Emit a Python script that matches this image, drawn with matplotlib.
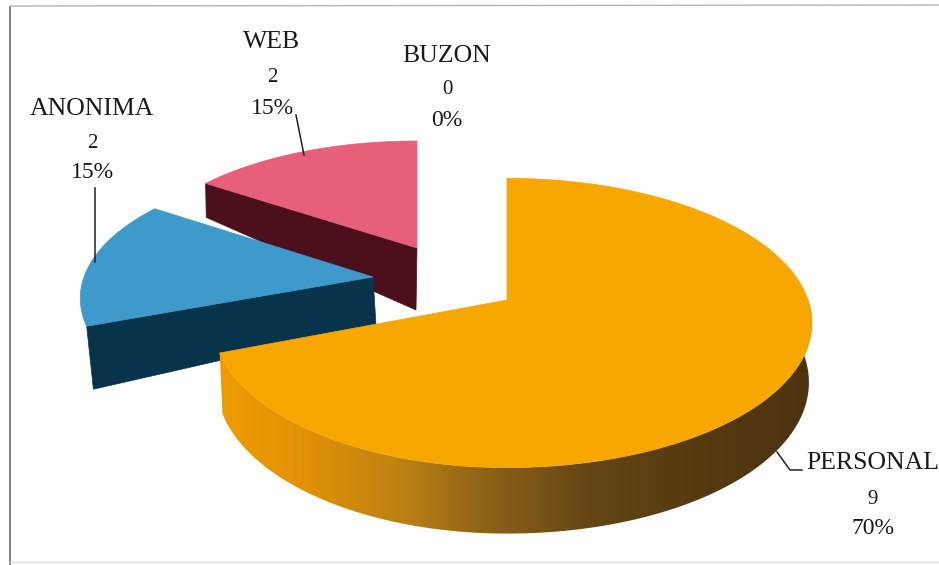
import matplotlib
matplotlib.use("Agg")
import matplotlib.pyplot as plt
from matplotlib.colors import LinearSegmentedColormap
from matplotlib.patches import Polygon
import numpy as np

categories = ["PERSONAL", "ANONIMA", "WEB", "BUZON"]
counts = [9, 2, 2, 0]
percent_labels = ["70%", "15%", "15%", "0%"]

# slice geometry: apex pixel, horizontal radius left/right, vertical radius,
# wall depth at apex and rim, extra depth toward the viewer, wall x shift
geometry = {
    "PERSONAL": dict(apex=(507, 300), fl=290, fr=301, g=141, da=58, dr=58, dv=8, sx=0, cx=-3),
    "ANONIMA": dict(apex=(373, 277), fl=289, fr=289, g=131, da=48, dr=63, dv=0, sx=3, cx=-4),
    "WEB": dict(apex=(417, 248), fl=280, fr=280, g=124, da=62, dr=34, dv=0, sx=-1, cx=-2),
}
top_colors = {"PERSONAL": "#f8a700", "ANONIMA": "#3d9aca", "WEB": "#e85f7c"}
wall_colors = {"ANONIMA": "#07344b", "WEB": "#4c101d"}
persp = 0.1587

side_cmap = LinearSegmentedColormap.from_list("side", [
    (0.0, "#ee9c02"), (0.14, "#e29205"), (0.31, "#bd8112"),
    (0.45, "#8c6318"), (0.62, "#654614"), (0.8, "#563b11"), (1.0, "#4b3310"),
])


def project(s, r, theta, depth=False):
    u = r * np.sin(theta)
    v = -r * np.cos(theta)
    den = 1 - persp * v
    f = np.where(u < 0, s["fl"], s["fr"])
    x = s["apex"][0] + f * u / den
    y = s["apex"][1] + s["g"] * v / den
    if depth:
        x = x + s["sx"] + s["cx"] * u
        y = y + s["da"] + (s["dr"] - s["da"]) * r + s["dv"] * v
    return x, y


fig = plt.figure(figsize=(9.39, 5.65), dpi=100)
ax = fig.add_axes([0, 0, 1, 1])
ax.axis("off")

# panel border
ax.plot([10, 10], [7, 565], color="#6e6e6e", lw=1.2)
ax.plot([10, 939], [6, 5], color="#b4b4b4", lw=1.0)
ax.plot([10, 939], [562, 562], color="#dcdcdc", lw=1.0)

# slice angles, clockwise from twelve o'clock
total = sum(counts)
edges = np.cumsum([0] + counts) / total * 2 * np.pi
spans = {c: (edges[i], edges[i + 1]) for i, c in enumerate(categories)}

# back to front so nearer slices cover the others
for name in ["WEB", "ANONIMA", "PERSONAL"]:
    s = geometry[name]
    t0, t1 = spans[name]
    t = np.linspace(t0, t1, 300)
    xa, ya = project(s, 0.0, 0.0)
    xr, yr = project(s, 1.0, t)

    if name == "PERSONAL":
        # rim wall with a left to right shade, clipped to the wall outline
        tw = np.linspace(np.radians(60), t1, 400)
        xt, yt = project(s, 1.0, tw)
        xb, yb = project(s, 1.0, tw, depth=True)
        outline = np.c_[np.r_[xt, xb[::-1]], np.r_[yt, yb[::-1]]]
        wall = Polygon(outline, closed=True, facecolor="none", edgecolor="none",
                       transform=ax.transData)
        ax.add_patch(wall)
        shade = np.linspace(0, 1, 512).reshape(1, -1)
        img = ax.imshow(shade, cmap=side_cmap, extent=(218, 812, 560, 300),
                        aspect="auto", zorder=3, interpolation="bilinear")
        img.set_clip_path(wall)
    else:
        # straight cut face from the apex out to the start of the arc
        xa2, ya2 = project(s, 0.0, 0.0, depth=True)
        xt, yt = project(s, 1.0, t0)
        xb, yb = project(s, 1.0, t0, depth=True)
        ax.fill([xa, xt, xb, xa2], [ya, yt, yb, ya2], color=wall_colors[name],
                lw=0.5, zorder=1 if name == "WEB" else 2)

    ax.fill(np.r_[xa, xr], np.r_[ya, yr], color=top_colors[name], lw=0.5,
            zorder={"WEB": 1.5, "ANONIMA": 2.5, "PERSONAL": 4}[name])

ax.set_xlim(0, 939)
ax.set_ylim(565, 0)

# data labels
label_font = dict(family="Liberation Serif", color="#1a1a1a", ha="center", va="center", zorder=6)
label_xy = {"ANONIMA": (92, 109, 143, 173), "WEB": (272, 42, 77, 108),
            "BUZON": (447, 56, 90, 120), "PERSONAL": (873, 463, 499, 529)}
for i, name in enumerate(categories):
    x, y0, y1, y2 = label_xy[name]
    ax.text(x, y0, name, fontsize=18.5, **label_font)
    ax.text(x, y1, str(counts[i]), fontsize=15, **label_font)
    ax.text(x, y2, percent_labels[i], fontsize=17, **label_font)

# leader lines
ax.plot([296, 304], [115, 155], color="#222222", lw=1.1, zorder=5)
ax.plot([95, 95], [188, 262], color="#222222", lw=1.1, zorder=5)
ax.plot([777, 790, 802], [452, 470, 470], color="#222222", lw=1.1, zorder=5)

fig.savefig("out.png", dpi=100, facecolor="white")
